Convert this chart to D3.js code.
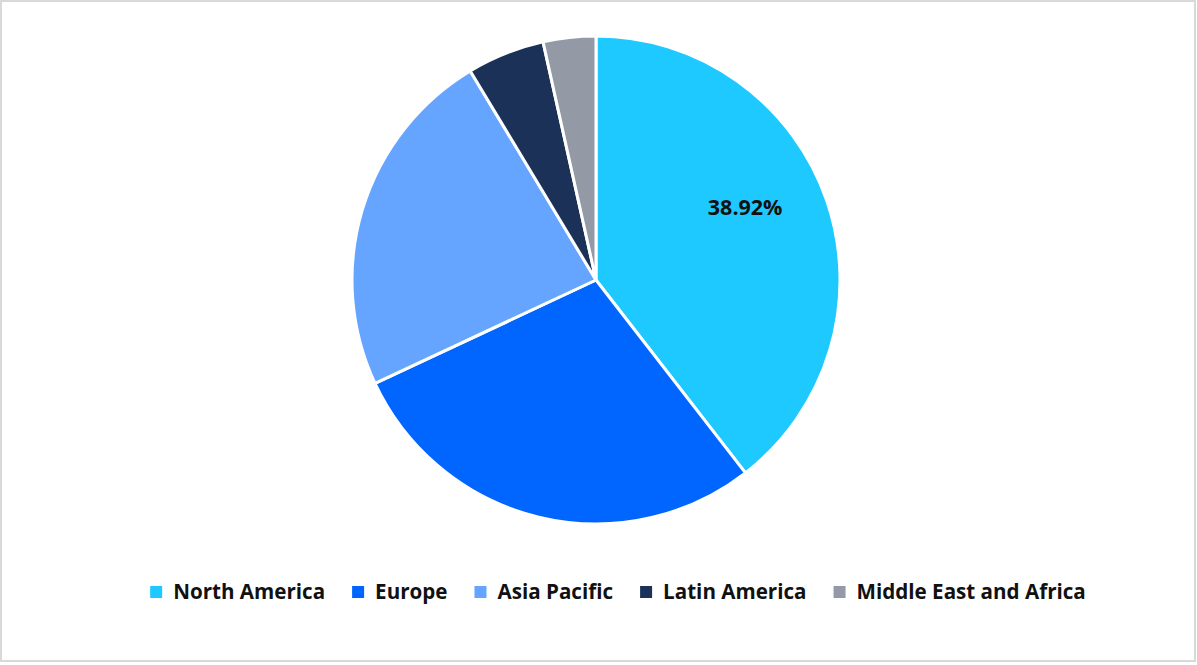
<!DOCTYPE html>
<html><head><meta charset="utf-8">
<script src="https://cdn.jsdelivr.net/npm/d3@7"></script>
<style>html,body{margin:0;padding:0;background:#fff;}svg{display:block;}</style>
</head><body>
<script>
const categories = ["North America","Europe","Asia Pacific","Latin America","Middle East and Africa"];
const values = [38.92, 28.1, 23.0, 5.06, 3.43];
const colors = ["#1DC9FF","#0066FF","#66A5FF","#1B3157","#939AA6"];
const shownLabels = ["38.92%", null, null, null, null];

const W = 1197, H = 665;
const svg = d3.select("body").append("svg").attr("width", W).attr("height", H);
svg.append("rect").attr("x",1).attr("y",1).attr("width",1194).attr("height",660)
  .attr("fill","#fff").attr("stroke","#d9d9d9").attr("stroke-width",2);

const cx = 596, cy = 280, r = 244;
const pie = d3.pie().sort(null).value(d => d)(values);
const arc = d3.arc().innerRadius(0).outerRadius(r);
const g = svg.append("g").attr("transform",`translate(${cx},${cy})`);
g.selectAll("path").data(pie).join("path")
  .attr("d", arc).attr("fill",(d,i)=>colors[i])
  .attr("stroke","#fff").attr("stroke-width",3).attr("stroke-linejoin","round");

g.selectAll("text.lbl").data(pie.filter((d,i)=>shownLabels[i]))
  .join("text").attr("class","lbl")
  .attr("transform", d => {
    const a = d.startAngle + (d.endAngle - d.startAngle) * 0.45;
    const rr = r * 0.68;
    return `translate(${rr*Math.sin(a)},${-rr*Math.cos(a)})`; })
  .attr("text-anchor","middle").attr("dy","0.35em")
  .attr("font-family","'Open Sans', 'Noto Sans', sans-serif").attr("font-weight","bold")
  .attr("font-size",21.5).attr("fill","#111")
  .text(d => shownLabels[d.index]);

// legend
const lg = svg.append("g");
const items = lg.selectAll("g").data(categories).join("g");
items.append("rect").attr("width",12).attr("height",12).attr("y",-6).attr("fill",(d,i)=>colors[i]);
items.append("text").attr("x",23).attr("dy","0.35em")
  .attr("font-family","'Open Sans', 'Noto Sans', sans-serif").attr("font-weight","bold")
  .attr("font-size",20.6).attr("fill","#111").text(d=>d);
let x = 0;
items.each(function(){
  const w = this.querySelector("text").getComputedTextLength();
  d3.select(this).attr("transform",`translate(${x},0)`);
  x += 23 + w + 27;
});
const total = x - 27;
lg.attr("transform",`translate(${618 - total/2},592)`);
</script>
</body></html>
